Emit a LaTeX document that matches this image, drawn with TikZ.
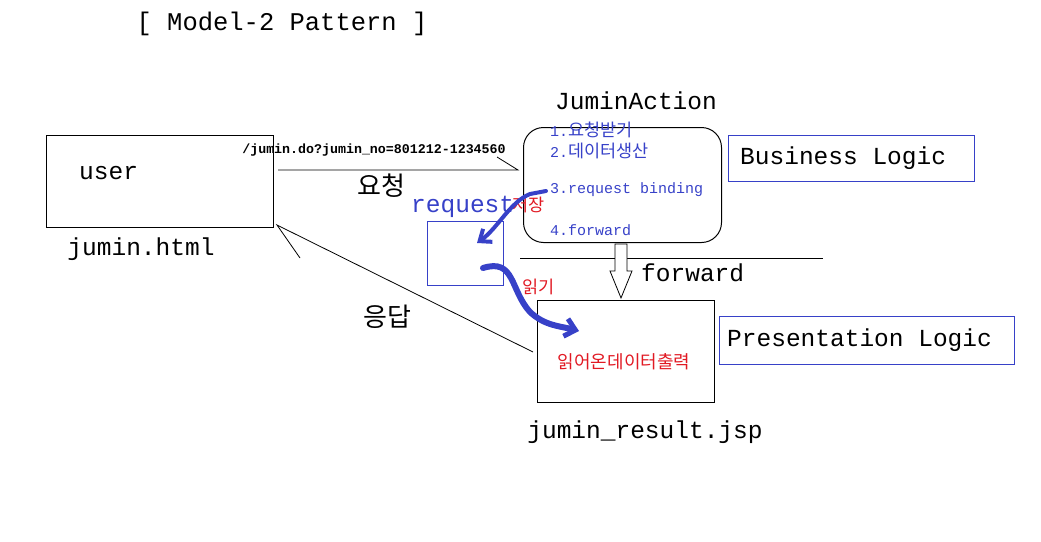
\documentclass[tikz,border=0pt]{standalone}
\usepackage{fontspec}
\usetikzlibrary{arrows.meta}
\newfontfamily\lm{Liberation Mono}
\newfontfamily\ko{Noto Sans CJK KR}
\definecolor{myblue}{RGB}{55,65,200}
\definecolor{myred}{RGB}{225,25,35}
\tikzset{
  big/.style={font=\lm\fontsize{24.5}{26}\selectfont, inner sep=0pt},
  small/.style={font=\lm\fontsize{15}{16}\selectfont, text=myblue, inner sep=0pt, anchor=west},
  kbig/.style={font=\ko\fontsize{26}{27}\selectfont, inner sep=0pt},
  kred/.style={font=\ko\fontsize{17.5}{18}\selectfont, text=myred, inner sep=0pt},
  bx/.style={draw, line width=1pt},
  bbx/.style={draw=myblue, line width=1pt},
  thin/.style={line width=0.8pt},
  hand/.style={myblue, line cap=round},
}
\newcommand{\kos}[1]{{\ko\fontsize{17.5}{18}\selectfont #1}}
\begin{document}
\begin{tikzpicture}[x=1pt,y=-1pt]
\useasboundingbox (0,0) rectangle (1041,541);
\node[big, font=\lm\fontsize{25.5}{27}\selectfont] (title) at (282,24) {[ Model-2 Pattern ]};
% user box
\node[bx, minimum width=227pt, minimum height=92pt, anchor=north west] (user) at (46,135) {};
\node[big, anchor=west] (usert) at (79,173) {user};
\node[big] (html) at (141,249) {jumin.html};
% JuminAction
\node[draw, line width=1pt, rounded corners=20pt, minimum width=198pt, minimum height=115pt, anchor=north west] (act) at (523,127) {};
\node[big] (actt) at (636,101) {JuminAction};
\node[small] (s1) at (550,130) {1.\kos{요청받기}};
\node[small] (s2) at (550,151) {2.\kos{데이터생산}};
\node[small] (s3) at (550,190) {3.request binding};
\node[small] (s4) at (550,230) {4.forward};
% Business logic
\node[bbx, minimum width=246pt, minimum height=46pt, anchor=north west] (bl) at (728,135) {};
\node[big, anchor=west] (blt) at (740,158) {Business Logic};
% Presentation logic
\node[bbx, minimum width=295pt, minimum height=48pt, anchor=north west] (pl) at (719,316) {};
\node[big, anchor=west] (plt) at (727,340) {Presentation Logic};
% request box
\node[bbx, minimum width=76pt, minimum height=64pt, anchor=north west] (rq) at (427,221) {};
\node[big, text=myblue, anchor=west] (rqt) at (411,207) {request};
\node[kred, anchor=west] (save) at (512,205) {저장};
% result box
\node[bx, minimum width=177pt, minimum height=102pt, anchor=north west] (res) at (537,300) {};
\node[kred, font=\ko\fontsize{18}{19}\selectfont] (rest) at (624,362) {읽어온데이터출력};
\node[big] (jsp) at (645,432) {jumin\_result.jsp};
\node[kred, anchor=west] (read) at (522,287) {읽기};
% request line
\coordinate (l1) at (278,170);
\coordinate (l2) at (518,170);
\coordinate (l3) at (497,157);
\draw[thin] (l1) -- (l2) -- (l3);
\node[font=\lm\bfseries\fontsize{13.3}{14}\selectfont, inner sep=0pt] (url) at (374,150) {/jumin.do?jumin\_no=801212-1234560};
\node[kbig] (yo) at (381,186) {요청};
% response line
\coordinate (r1) at (277,225);
\coordinate (r2) at (533,352);
\coordinate (r3) at (300,258);
\draw[thin] (r2) -- (r1) -- (r3);
\node[kbig] (eung) at (387,317) {응답};
% forward line and arrow
\coordinate (f1) at (520,258);
\coordinate (f2) at (823,258);
\draw[thin] (f1) -- (f2);
\draw[thin, fill=white] (615,244) -- (627,244) -- (627,271) -- (632,271) -- (621,298) -- (610,271) -- (615,271) -- cycle;
\node[big, anchor=west] (fw) at (641,273) {forward};
% blue hand arrows
\coordinate (h0) at (546,191);
\coordinate (h1) at (530,194);
\coordinate (h2) at (477,243);
\draw[hand, line width=4pt, -{Straight Barb[length=10pt,width=16pt,line width=4pt]}] (h0) -- (h1) .. controls (510,202) and (498,228) .. (h2);
\coordinate (k1) at (483,268);
\coordinate (k2) at (579,331);
\draw[hand, line width=6pt, -{Straight Barb[length=10pt,width=18pt,line width=5pt]}] (k1) .. controls (515,258) and (510,290) .. (530,312) .. controls (545,326) and (560,326) .. (k2);
\end{tikzpicture}
\end{document}
